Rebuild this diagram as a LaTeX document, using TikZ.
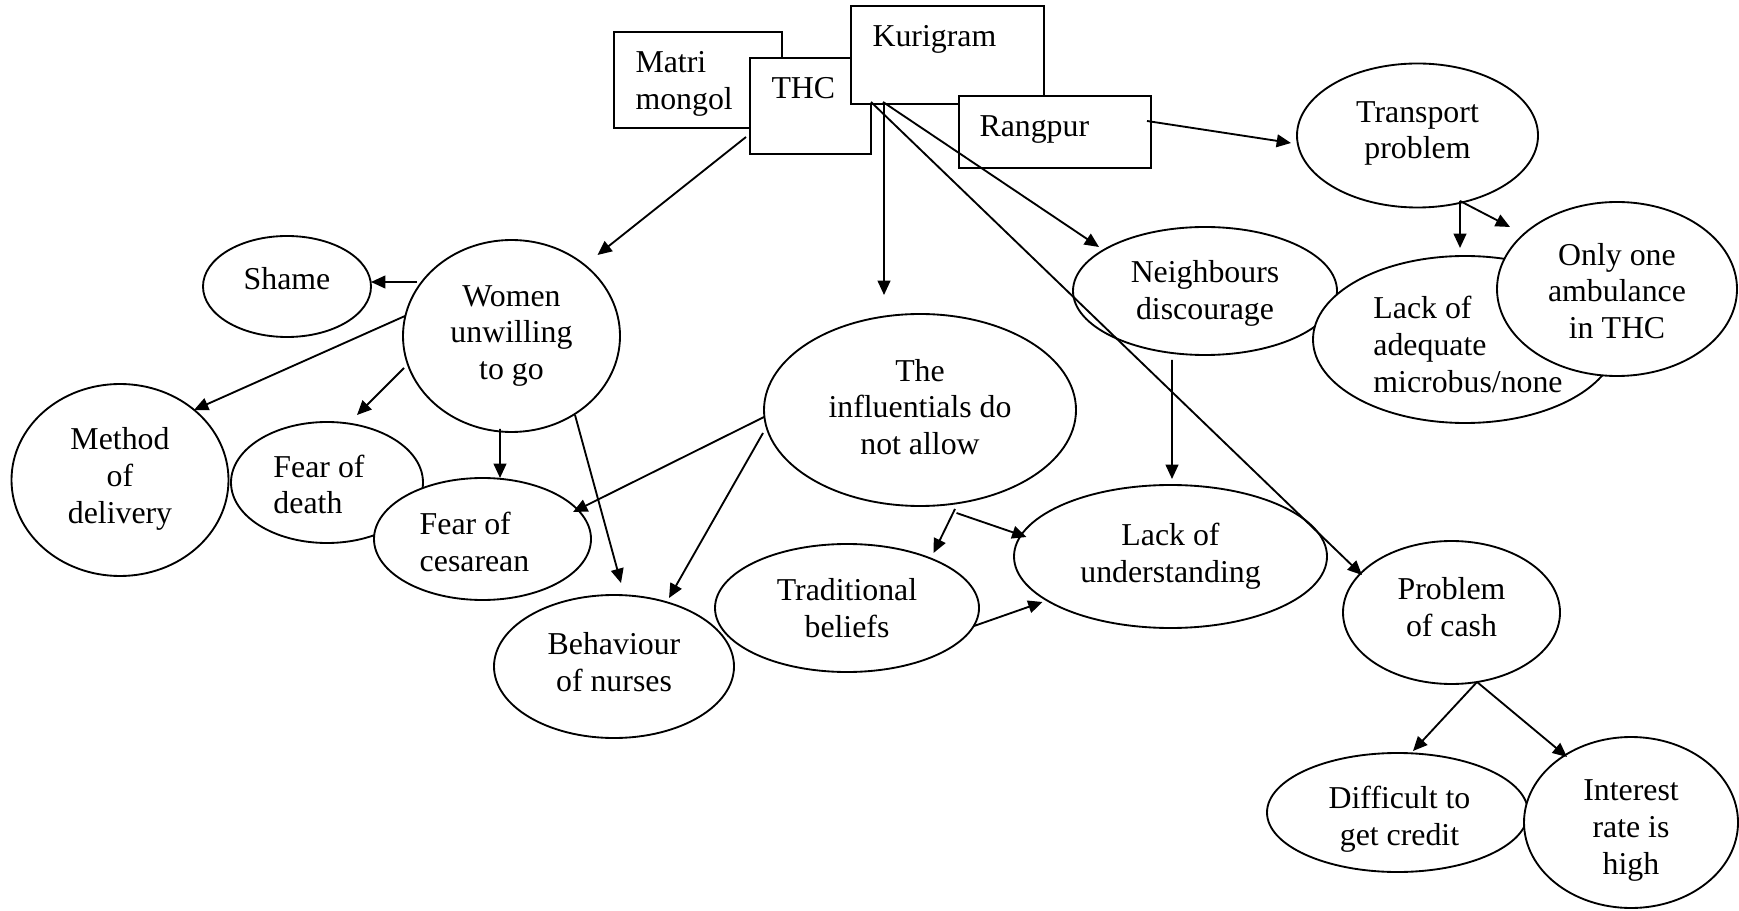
\documentclass[tikz,border=0pt]{standalone}
\usepackage{fontspec}
\setmainfont{Liberation Serif}
\usetikzlibrary{arrows.meta,shapes.geometric,calc}
\tikzset{
  ell/.style 2 args={ellipse, draw, fill=white, line width=0.7pt, inner sep=0pt, outer sep=0pt,
    minimum width={2*#1*0.377pt}, minimum height={2*#2*0.377pt}},
  lt/.style 2 args={inner sep=0pt, align=center, xshift=#1*0.377pt, yshift=-#2*0.377pt},
  box/.style 2 args={rectangle, draw, fill=white, line width=0.7pt, anchor=north west, inner sep=0pt,
    outer sep=0pt, minimum width={#1*0.377pt}, minimum height={#2*0.377pt}},
  boxtxt/.style={anchor=north west, inner sep=0pt, align=left},
  arr/.style={line width=0.7pt, -{Triangle[length=5.4pt,width=4.8pt]}},
}
\begin{document}
\begin{tikzpicture}[x=0.377pt, y=-0.377pt, font=\fontsize{12}{13.9}\selectfont]
\path[fill=white,use as bounding box] (0,0) rectangle (1739,911);

% boxes
\node[box={168}{96}] (matri) at (614,32) {};
\node[boxtxt] (matritxt) at ($(matri.north west)+(21,19)$) {Matri\\mongol};
\node[box={121}{96}] (thc) at (750,58) {};
\node[boxtxt] (thctxt) at ($(thc.north west)+(21,19)$) {THC};
\node[box={193}{98}] (kuri) at (851,6) {};
\node[boxtxt] (kuritxt) at ($(kuri.north west)+(21,19)$) {Kurigram};
\node[box={192}{72}] (rang) at (959,96) {};
\node[boxtxt] (rangtxt) at ($(rang.north west)+(20,19)$) {Rangpur};

% ellipses
\node[ell={84}{50.5}, label={[lt={0}{-8}]center:Shame}] (shame) at (287,286.5) {};
\node[ell={108.5}{96}, label={[lt={0}{0}]center:{Women\\unwilling\\to go}}] (women) at (511.5,336) {};
\node[ell={108.5}{96}, label={[lt={0}{-1}]center:{Method\\of\\delivery}}] (method) at (120,480) {};
\node[ell={96}{60.5}, label={[lt={-8}{2}, align=left]center:{Fear of\\death}}] (death) at (327,482.5) {};
\node[ell={108.5}{61}, label={[lt={-8}{3}, align=left]center:{Fear of\\cesarean}}] (ces) at (482.5,539) {};
\node[ell={120}{71.5}, label={[lt={0}{-4.5}]center:{Behaviour\\of nurses}}] (nurses) at (614,666.5) {};
\node[ell={132}{64}, label={[lt={0}{0}]center:{Traditional\\beliefs}}] (trad) at (847,608) {};
\node[ell={156}{96}, label={[lt={0}{-3}]center:{The\\influentials do\\not allow}}] (infl) at (920,410) {};
\node[ell={156.5}{71.5}, label={[lt={0}{0}]center:{Lack of\\understanding}}] (lou) at (1170.5,556.5) {};
\node[ell={132}{64}, label={[lt={0}{2}]center:{Neighbours\\discourage}}] (neigh) at (1205,291) {};
\node[ell={120.5}{72}, label={[lt={0}{-2}]center:{Transport\\problem}}] (trans) at (1417.5,135.5) {};
\node[ell={152}{83.5}, label={[lt={3}{5}, align=left]center:{Lack of\\adequate\\microbus/none}}] (adeq) at (1465,339.5) {};
\node[ell={120}{87}, label={[lt={0}{2}]center:{Only one\\ambulance\\in THC}}] (amb) at (1617,289) {};
\node[ell={108.5}{71.5}, label={[lt={0}{-5.5}]center:{Problem\\of cash}}] (cash) at (1451.5,612.5) {};
\node[ell={130.5}{59.5}, label={[lt={2}{6.5}]center:{Difficult to\\get credit}}] (credit) at (1397.5,812.5) {};
\node[ell={107}{85.5}, label={[lt={0}{8}]center:{Interest\\rate is\\high}}] (interest) at (1631,822.5) {};

% connectors
\draw[arr] ($(thc)+(-64.5,31)$) -- ($(women)+(86,-81)$);
\draw[arr] ($(kuri)+(-63.5,47)$) -- ($(infl)+(-36,-115)$);
\draw[arr] ($(kuri)+(-64.5,47)$) -- ($(neigh)+(-106,-44)$);
\draw[arr] ($(kuri)+(-76.5,47)$) -- ($(cash)+(-89.5,-37.5)$);
\draw[arr] ($(rang)+(92,-11)$) -- ($(trans)+(-126.5,7.5)$);
\draw[arr] ($(trans)+(42.5,65.5)$) -- ($(adeq)+(-5,-91.5)$);
\draw[arr] ($(trans)+(42.5,65.5)$) -- ($(amb)+(-107,-62)$);
\draw[arr] ($(women)+(-94.5,-54)$) -- ($(shame)+(84,-4.5)$);
\draw[arr] ($(women)+(-106.5,-20)$) -- ($(method)+(74,-70)$);
\draw[arr] ($(women)+(-107.5,32)$) -- ($(death)+(30,-67.5)$);
\draw[arr] ($(women)+(-11.5,93)$) -- ($(ces)+(17.5,-61)$);
\draw[arr] ($(women)+(63.5,79)$) -- ($(nurses)+(7,-83.5)$);
\draw[arr] ($(infl)+(-156,7)$) -- ($(ces)+(90.5,-27)$);
\draw[arr] ($(infl)+(-157,23)$) -- ($(nurses)+(55,-68.5)$);
\draw[arr] ($(infl)+(35,99)$) -- ($(trad)+(86.5,-55)$);
\draw[arr] ($(infl)+(36.5,103)$) -- ($(lou)+(-144,-19.5)$);
\draw[arr] ($(trad)+(127,18)$) -- ($(lou)+(-128,45.5)$);
\draw[arr] ($(neigh)+(-33,69)$) -- ($(lou)+(1.5,-77.5)$);
\draw[arr] ($(cash)+(25.5,69.5)$) -- ($(credit)+(15.5,-61.5)$);
\draw[arr] ($(cash)+(25.5,69.5)$) -- ($(interest)+(-64,-65.5)$);
\end{tikzpicture}
\end{document}
